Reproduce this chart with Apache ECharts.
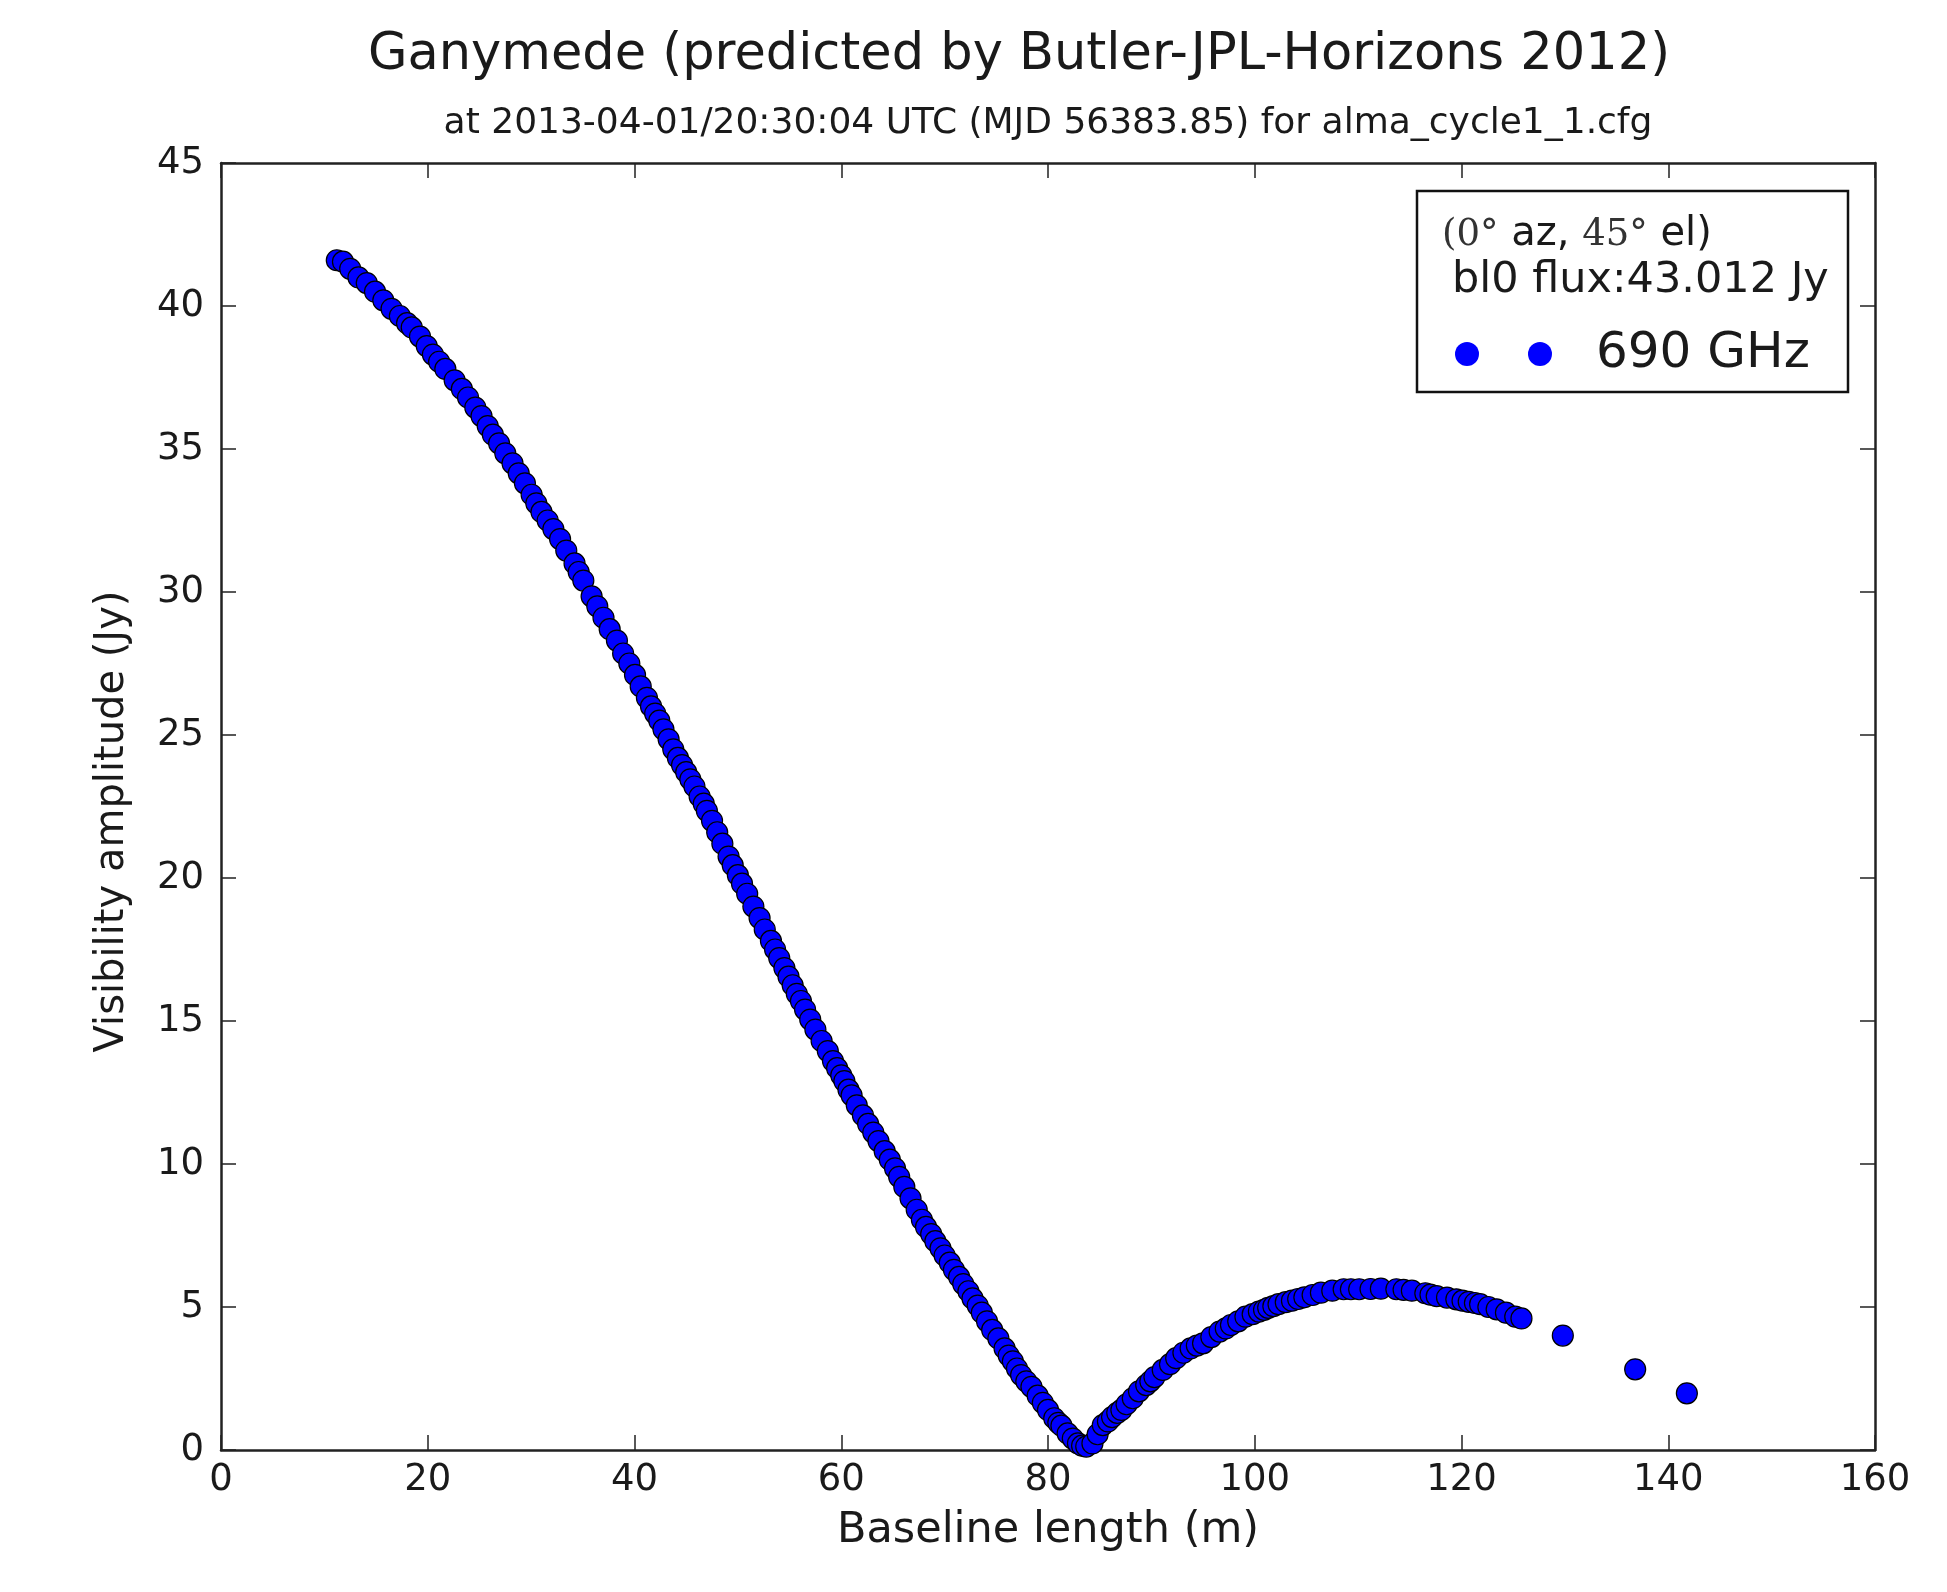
<!DOCTYPE html>
<html style="height: 100%">
<head>
    <meta charset="utf-8">
    <title>Ganymede visibility</title>
</head>
<body style="height: 100%; margin: 0; background: #fff">
    <div id="container" style="width: 1947px; height: 1592px"></div>
    <script src="https://cdn.jsdelivr.net/npm/echarts@6/dist/echarts.min.js"></script>
    <script type="text/javascript">
        // baseline length (m) and visibility amplitude (Jy)
        var baselineLength = [
            11.2, 11.8, 12.5, 13.3, 14.1, 14.9, 15.7, 16.5, 17.3, 18.0,
            18.45, 19.25, 19.9, 20.5, 21.1, 21.7, 22.6, 23.3, 23.9, 24.6,
            25.2, 25.8, 26.3, 26.9, 27.5, 28.2, 28.8, 29.4, 30.05, 30.5,
            31.0, 31.6, 32.15, 32.8, 33.4, 34.2, 34.6, 35.05, 35.85, 36.4,
            37.0, 37.6, 38.3, 38.9, 39.5, 40.05, 40.6, 41.2, 41.6, 42.0,
            42.4, 42.8, 43.3, 43.75, 44.2, 44.6, 45.0, 45.4, 45.8, 46.3,
            46.7, 47.0, 47.5, 48.0, 48.5, 49.1, 49.5, 50.0, 50.4, 50.9,
            51.5, 52.1, 52.6, 53.2, 53.6, 54.0, 54.5, 54.9, 55.3, 55.7,
            56.1, 56.5, 57.0, 57.5, 58.1, 58.7, 59.2, 59.6, 60.0, 60.3,
            60.7, 61.0, 61.5, 62.1, 62.6, 63.1, 63.6, 64.2, 64.7, 65.2,
            65.6, 66.1, 66.7, 67.3, 67.8, 68.2, 68.7, 69.1, 69.6, 70.0,
            70.5, 70.9, 71.4, 71.8, 72.3, 72.7, 73.2, 73.6, 74.1, 74.6,
            75.2, 75.8, 76.2, 76.6, 77.0, 77.4, 77.9, 78.4, 79.0, 79.5,
            80.0, 80.6, 81.0, 81.3, 81.9, 82.4, 82.9, 83.3, 83.7, 84.3,
            84.8, 85.3, 85.8, 86.2, 86.7, 87.1, 87.6, 88.2, 88.8, 89.5,
            89.9, 90.3, 91.1, 91.8, 92.4, 93.1, 93.8, 94.4, 95.0, 95.8,
            96.6, 97.2, 97.7, 98.4, 99.1, 99.8, 100.4, 100.9, 101.3, 101.8,
            102.3, 103.0, 103.6, 104.2, 104.8, 105.6, 106.4, 107.5, 108.6, 109.3,
            110.1, 111.2, 112.2, 113.7, 114.4, 115.2, 116.5, 117.0, 117.6, 118.6,
            119.5, 120.1, 120.7, 121.3, 121.8, 122.6, 123.4, 124.3, 125.2, 125.8,
            129.8, 136.8, 141.8
        ];
        var visAmplitude = [
            41.6, 41.55, 41.3, 41.0, 40.8, 40.5, 40.2, 39.9, 39.65, 39.4,
            39.25, 38.93, 38.6, 38.3, 38.05, 37.8, 37.4, 37.1, 36.8, 36.45,
            36.15, 35.8, 35.5, 35.2, 34.85, 34.5, 34.15, 33.8, 33.4, 33.1,
            32.8, 32.5, 32.2, 31.85, 31.45, 31.0, 30.7, 30.4, 29.85, 29.5,
            29.1, 28.7, 28.3, 27.85, 27.5, 27.1, 26.7, 26.3, 26.0, 25.75,
            25.5, 25.2, 24.85, 24.5, 24.2, 23.95, 23.7, 23.45, 23.2, 22.85,
            22.6, 22.35, 22.0, 21.6, 21.2, 20.75, 20.45, 20.1, 19.8, 19.45,
            19.0, 18.6, 18.2, 17.8, 17.5, 17.2, 16.85, 16.55, 16.25, 15.95,
            15.7, 15.4, 15.05, 14.7, 14.3, 13.95, 13.6, 13.35, 13.1, 12.9,
            12.6, 12.4, 12.05, 11.7, 11.4, 11.1, 10.8, 10.45, 10.15, 9.85,
            9.55, 9.2, 8.8, 8.4, 8.05, 7.8, 7.55, 7.3, 7.05, 6.8,
            6.55, 6.3, 6.05, 5.8, 5.55, 5.3, 5.05, 4.8, 4.5, 4.2,
            3.9, 3.55, 3.3, 3.1, 2.85, 2.62, 2.4, 2.21, 1.9, 1.65,
            1.4, 1.11, 0.95, 0.85, 0.58, 0.4, 0.23, 0.15, 0.12, 0.23,
            0.55, 0.87, 1.0, 1.15, 1.3, 1.40, 1.6, 1.81, 2.05, 2.27,
            2.4, 2.55, 2.80, 3.0, 3.21, 3.4, 3.55, 3.65, 3.73, 3.95,
            4.14, 4.25, 4.37, 4.5, 4.66, 4.75, 4.84, 4.9, 4.97, 5.03,
            5.10, 5.17, 5.22, 5.28, 5.34, 5.42, 5.50, 5.57, 5.62, 5.62,
            5.62, 5.63, 5.64, 5.62, 5.6, 5.57, 5.48, 5.43, 5.38, 5.33,
            5.27, 5.22, 5.18, 5.14, 5.10, 5.00, 4.92, 4.80, 4.66, 4.60,
            4.00, 2.82, 1.98
        ];
        var xTicks = [0, 160, 20];   // min, max, step
        var yTicks = [0, 45, 5];
        var seriesName = '690 GHz';
        var titleText = 'Ganymede (predicted by Butler-JPL-Horizons 2012)';
        var subText = 'at 2013-04-01/20:30:04 UTC (MJD 56383.85) for alma_cycle1_1.cfg';

        var points = baselineLength.map(function (b, i) {
            return [b, visAmplitude[i]];
        });

        var FONT = 'DejaVu Sans';
        var INK = '#1a1a1a';
        var frame = { show: true, onZero: false, lineStyle: { color: '#222', width: 2.5 } };
        var tick = { show: true, inside: true, length: 15, lineStyle: { color: '#222', width: 1.5 } };

        var dom = document.getElementById('container');
        var myChart = echarts.init(dom, null, { renderer: 'canvas' });

        var option = {
            animation: false,
            backgroundColor: '#fff',
            grid: { left: 221, right: 72, top: 163, bottom: 142, containLabel: false },
            xAxis: [{
                type: 'value',
                min: xTicks[0], max: xTicks[1], interval: xTicks[2],
                axisLine: frame, axisTick: tick, splitLine: { show: false },
                axisLabel: { fontFamily: FONT, fontSize: 37, color: INK, margin: 12 },
                name: 'Baseline length (m)',
                nameLocation: 'middle',
                nameGap: 59,
                nameTextStyle: { fontFamily: FONT, fontSize: 43, color: INK }
            }, {
                type: 'value', position: 'top',
                min: xTicks[0], max: xTicks[1], interval: xTicks[2],
                axisLine: frame, axisTick: tick, splitLine: { show: false },
                axisLabel: { show: false }
            }],
            yAxis: [{
                type: 'value',
                min: yTicks[0], max: yTicks[1], interval: yTicks[2],
                axisLine: frame, axisTick: tick, splitLine: { show: false },
                axisLabel: { fontFamily: FONT, fontSize: 37, color: INK, margin: 17 },
                name: 'Visibility amplitude (Jy)',
                nameLocation: 'middle',
                nameGap: 88,
                nameTextStyle: { fontFamily: FONT, fontSize: 40, color: INK, padding: [0, 30, 0, 0] }
            }, {
                type: 'value', position: 'right',
                min: yTicks[0], max: yTicks[1], interval: yTicks[2],
                axisLine: frame, axisTick: tick, splitLine: { show: false },
                axisLabel: { show: false }
            }],
            series: [{
                name: seriesName,
                type: 'scatter',
                data: points,
                symbol: 'circle',
                symbolSize: 21,
                itemStyle: { color: '#0000ff', borderColor: '#000', borderWidth: 1.2, opacity: 1 },
                emphasis: { disabled: true }
            }],
            graphic: [
                {
                    type: 'text', x: 1019, y: 56,
                    style: { text: titleText, fontFamily: FONT, fontSize: 51, fill: INK,
                             align: 'center', verticalAlign: 'middle' }
                },
                {
                    type: 'text', x: 1048, y: 124,
                    style: { text: subText, fontFamily: FONT, fontSize: 36, fill: INK,
                             align: 'center', verticalAlign: 'middle' }
                },
                // legend box
                {
                    type: 'rect', shape: { x: 1417, y: 191, width: 431, height: 201 },
                    style: { fill: '#fff', stroke: '#111', lineWidth: 2.5 }, z: 10
                },
                {
                    type: 'text', x: 1442, y: 235, z: 11,
                    style: {
                        text: '{m|(0°} az, {m|45°} el)',
                        fontFamily: FONT, fontSize: 40, fill: INK, verticalAlign: 'middle',
                        rich: { m: { fontFamily: 'DejaVu Serif', fontSize: 37, fill: '#333' } }
                    }
                },
                {
                    type: 'text', x: 1452, y: 281, z: 11,
                    style: { text: 'bl0 flux:43.012 Jy', fontFamily: FONT, fontSize: 43, fill: INK,
                             verticalAlign: 'middle' }
                },
                {
                    type: 'circle', shape: { cx: 1467, cy: 354, r: 12 }, z: 11,
                    style: { fill: '#0000ff' }
                },
                {
                    type: 'circle', shape: { cx: 1540, cy: 354, r: 12 }, z: 11,
                    style: { fill: '#0000ff' }
                },
                {
                    type: 'text', x: 1596, y: 354, z: 11,
                    style: { text: seriesName, fontFamily: FONT, fontSize: 50, fill: INK,
                             verticalAlign: 'middle' }
                }
            ]
        };
        myChart.setOption(option);
    </script>
</body>
</html>
